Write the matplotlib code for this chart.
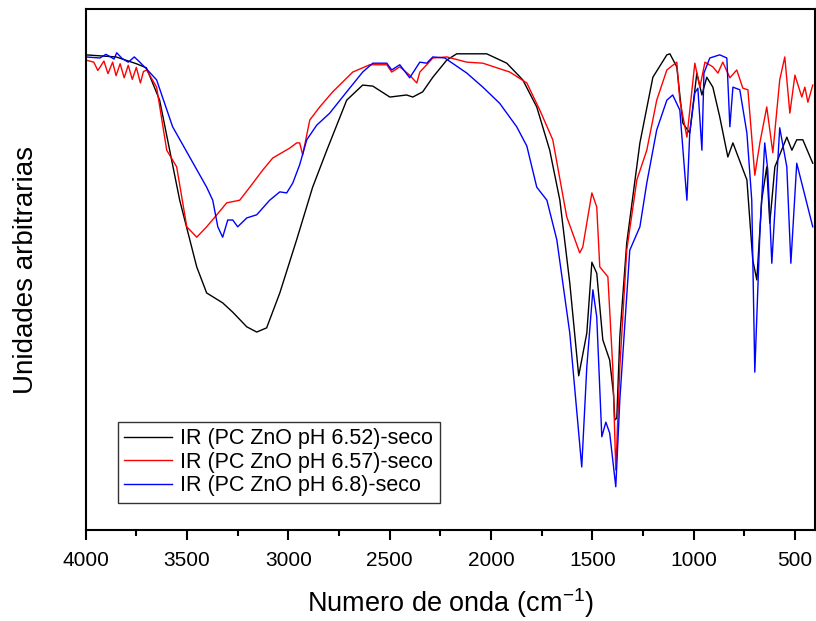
import matplotlib.pyplot as plt
from matplotlib.ticker import MultipleLocator

plt.rcParams['font.family'] = ['Liberation Sans', 'DejaVu Sans']
plt.rcParams['mathtext.fontset'] = 'custom'
plt.rcParams['mathtext.rm'] = 'Liberation Sans'
plt.rcParams['mathtext.it'] = 'Liberation Sans'

# IR (PC ZnO pH 6.52)-seco
wn_black = [4000, 3850, 3750, 3700, 3635, 3536, 3452, 3403, 3324, 3274, 3205, 3156, 3107,
            3042, 2959, 2880, 2810, 2712, 2633, 2583, 2499, 2416, 2386, 2337, 2287, 2218,
            2169, 2021, 1922, 1843, 1774, 1710, 1660, 1611, 1567, 1527, 1502, 1478, 1448,
            1414, 1395, 1389, 1379, 1364, 1330, 1265, 1201, 1132, 1117, 1083, 1053, 1019,
            984, 959, 935, 905, 871, 831, 806, 737, 708, 688, 664, 639, 624, 599, 540, 515,
            491, 461, 412]
y_black = [91.2, 90.8, 89.5, 88.7, 82.5, 63.3, 50.5, 45.5, 43.6, 41.8, 39.0, 38.0, 38.8,
           45.5, 55.7, 65.8, 72.9, 82.5, 85.4, 85.2, 83.1, 83.5, 83.1, 84.1, 86.9, 90.2,
           91.4, 91.4, 89.6, 86.4, 81.2, 72.9, 63.3, 47.4, 29.6, 37.8, 51.4, 49.3, 36.5,
           32.6, 26.0, 21.1, 21.5, 37.2, 55.1, 74.3, 86.9, 91.2, 91.4, 88.9, 78.1, 76.2,
           87.7, 83.5, 86.9, 85.0, 79.3, 71.6, 74.3, 67.2, 51.8, 48.0, 63.3, 69.7, 58.9,
           69.7, 75.4, 72.9, 74.9, 74.9, 70.4]

# IR (PC ZnO pH 6.57)-seco
wn_red = [4000, 3960, 3940, 3910, 3890, 3867, 3850, 3830, 3810, 3790, 3770, 3750, 3730,
          3715, 3699, 3650, 3600, 3551, 3501, 3452, 3403, 3353, 3304, 3240, 3190, 3126,
          3077, 2993, 2959, 2944, 2929, 2894, 2845, 2781, 2682, 2598, 2514, 2490, 2450,
          2401, 2366, 2351, 2317, 2287, 2218, 2119, 2040, 1907, 1823, 1759, 1695, 1626,
          1562, 1547, 1502, 1478, 1463, 1423, 1399, 1384, 1364, 1330, 1280, 1231, 1182,
          1132, 1083, 1068, 1033, 994, 969, 944, 905, 880, 856, 821, 787, 757, 732, 698,
          673, 639, 609, 575, 550, 525, 500, 466, 451, 436, 412]
y_red = [90.2, 89.8, 88.2, 90.0, 87.6, 89.8, 87.2, 89.5, 86.8, 89.2, 86.5, 88.8, 85.8,
         88.0, 88.3, 85.0, 72.9, 69.7, 58.2, 56.2, 58.2, 60.5, 62.8, 63.3, 65.8, 69.1,
         71.4, 73.3, 74.3, 74.3, 72.0, 78.7, 81.2, 84.1, 87.9, 89.3, 89.3, 87.9, 88.9,
         87.3, 85.8, 87.9, 89.3, 90.6, 90.8, 89.8, 89.6, 87.9, 85.8, 80.6, 74.9, 60.1,
         53.2, 54.3, 64.7, 62.0, 50.5, 48.6, 31.3, 11.5, 31.3, 53.7, 67.2, 72.9, 82.5,
         88.3, 89.8, 82.5, 75.4, 89.6, 85.0, 89.8, 88.9, 87.7, 89.8, 86.8, 88.3, 84.8,
         84.5, 68.1, 74.3, 81.2, 72.4, 86.4, 90.8, 80.0, 87.3, 83.1, 85.0, 82.1, 85.4]

# IR (PC ZnO pH 6.8)-seco
wn_blue = [4000, 3930, 3900, 3860, 3847, 3820, 3790, 3760, 3733, 3700, 3650, 3571, 3487,
           3403, 3373, 3348, 3324, 3299, 3274, 3250, 3205, 3156, 3092, 3042, 3008, 2978,
           2944, 2909, 2860, 2796, 2712, 2633, 2583, 2514, 2490, 2450, 2401, 2351, 2317,
           2287, 2228, 2119, 2040, 1957, 1873, 1823, 1774, 1724, 1675, 1611, 1552, 1527,
           1497, 1478, 1453, 1433, 1414, 1384, 1364, 1315, 1265, 1231, 1182, 1132, 1103,
           1068, 1033, 1019, 994, 979, 959, 949, 920, 871, 836, 821, 806, 772, 737, 713,
           698, 673, 649, 634, 614, 575, 540, 520, 491, 412]
y_blue = [90.8, 90.6, 91.3, 90.4, 91.6, 90.5, 89.8, 90.8, 89.8, 88.5, 86.4, 77.4, 71.6,
          65.8, 63.3, 58.2, 56.2, 59.5, 59.5, 58.2, 59.9, 60.5, 63.3, 64.9, 64.7, 66.6,
          70.1, 74.9, 77.7, 80.0, 84.1, 87.9, 89.6, 89.6, 88.3, 89.3, 86.8, 89.8, 89.6,
          90.8, 90.6, 87.7, 85.0, 81.9, 77.4, 73.7, 65.8, 63.3, 55.7, 37.8, 12.1, 31.3,
          46.1, 40.9, 17.9, 20.7, 18.6, 8.3, 25.0, 53.7, 58.2, 66.6, 76.8, 82.5, 83.5,
          80.6, 63.3, 76.2, 83.9, 84.8, 72.9, 87.7, 90.6, 91.2, 90.6, 77.4, 85.0, 84.5,
          76.2, 63.3, 30.3, 57.0, 74.3, 69.1, 51.2, 77.2, 69.7, 51.2, 70.4, 58.2]

labels = ['IR (PC ZnO pH 6.52)-seco', 'IR (PC ZnO pH 6.57)-seco', 'IR (PC ZnO pH 6.8)-seco']

fig = plt.figure(figsize=(8.16, 6.21), dpi=100)
ax = fig.add_axes([0.105, 0.1465, 0.894, 0.839])

ax.plot(wn_black, y_black, color='black', lw=1, label=labels[0])
ax.plot(wn_red, y_red, color='red', lw=1, label=labels[1])
ax.plot(wn_blue, y_blue, color='blue', lw=1, label=labels[2])

ax.set_xlim(4000, 400)
ax.set_ylim(0, 100)
ax.xaxis.set_major_locator(MultipleLocator(500))
ax.xaxis.set_minor_locator(MultipleLocator(250))
ax.tick_params(axis='x', which='major', direction='out', length=7, width=1.5,
               labelsize=15, pad=8)
ax.tick_params(axis='x', which='minor', direction='out', length=4, width=1.5)
ax.set_yticks([])
for s in ax.spines.values():
    s.set_linewidth(1.5)

ax.set_xlabel('Numero de onda (cm$^{\\mathrm{-1}}$)', fontsize=19.5)
ax.set_ylabel('Unidades arbitrarias', fontsize=20)
ax.xaxis.set_label_coords(0.5, -0.108)
ax.yaxis.set_label_coords(-0.064, 0.5)

leg = ax.legend(loc='lower left', bbox_to_anchor=(0.044, 0.052), borderaxespad=0,
                fontsize=15.5, fancybox=False, edgecolor='#333333', framealpha=1,
                handlelength=2.2, labelspacing=0.12, borderpad=0.3, handletextpad=0.4)
leg.get_frame().set_linewidth(1)

plt.savefig('out.png', dpi=100)
